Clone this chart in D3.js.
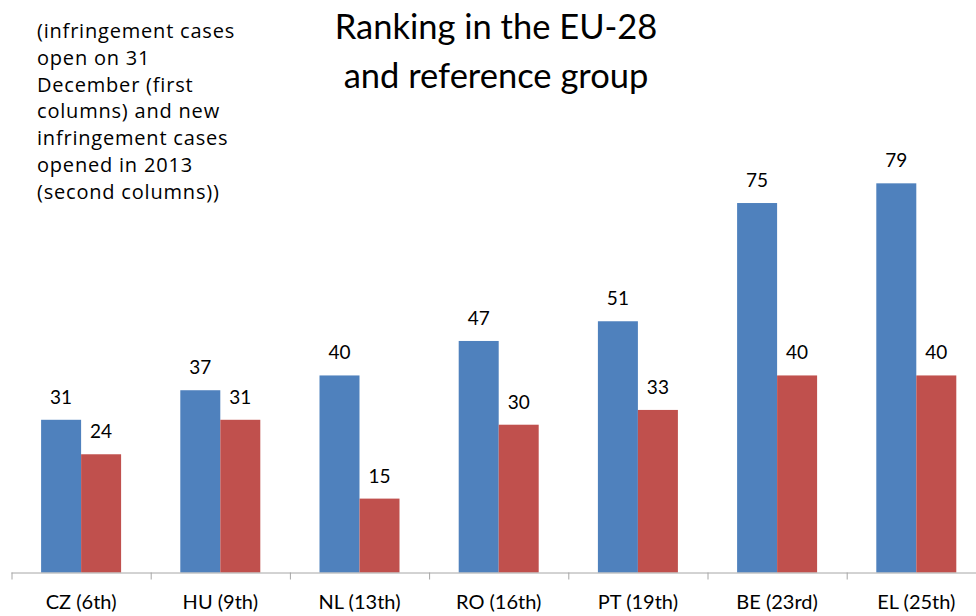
<!DOCTYPE html>
<html><head><meta charset="utf-8">
<script src="https://cdn.jsdelivr.net/npm/d3@7"></script>
<style>html,body{margin:0;padding:0;background:#fff}svg{display:block}</style>
</head><body>
<svg id="c" width="976" height="616"></svg>
<script>
const categories = ["CZ (6th)","HU (9th)","NL (13th)","RO (16th)","PT (19th)","BE (23rd)","EL (25th)"];
const seriesNames = ["open on 31 December","new in 2013"];
const openCases = [31,37,40,47,51,75,79];
const newCases = [24,31,15,30,33,40,40];
const colors = ["#4F81BD","#C0504D"];
const titleLines = ["Ranking in the EU-28","and reference group"];
const noteLines = ["(infringement cases","open on 31","December (first","columns) and new","infringement cases","opened in 2013","(second columns))"];

const svg = d3.select("#c");
const font = "Lato, 'Open Sans', sans-serif";
const font2 = "'Open Sans', Lato, sans-serif";
const x = d3.scaleBand().domain(categories).range([11.5, 11.5 + 139.2*7]).paddingInner(0).paddingOuter(0);
const xs = d3.scaleBand().domain(seriesNames).range([29.6, 109.6]);
const y = d3.scaleLinear().domain([0, 80]).range([572.5, 178.4]);

const data = categories.map((c,i)=>({c, vals:[openCases[i], newCases[i]]}));
const g = svg.append("g");
const grp = g.selectAll("g.cat").data(data).join("g").attr("transform", d=>`translate(${x(d.c)},0)`);
grp.selectAll("rect").data(d=>d.vals.map((v,j)=>({v,s:seriesNames[j],j}))).join("rect")
  .attr("x", d=>xs(d.s)).attr("width", xs.bandwidth())
  .attr("y", d=>y(d.v)).attr("height", d=>y(0)-y(d.v))
  .attr("fill", d=>colors[d.j]);
grp.selectAll("text").data(d=>d.vals.map((v,j)=>({v,s:seriesNames[j],j}))).join("text")
  .attr("x", d=>xs(d.s)+xs.bandwidth()/2).attr("y", d=>y(d.v)-16)
  .attr("text-anchor","middle").attr("font-family",font).attr("font-size",19).attr("fill","#000")
  .text(d=>d.v);

// axis
const ax = svg.append("g").attr("transform",`translate(0,${y(0)})`)
  .call(d3.axisBottom(x).tickSize(0).tickSizeOuter(0));
ax.select(".domain").attr("stroke","#A6A6A6").attr("d",`M${x.range()[0]},0.5H976`);
ax.selectAll(".tick text").attr("font-family",font).attr("font-size",20).attr("fill","#000").attr("dy",0).attr("y",36.5);
const bounds = categories.map(c=>x(c));
ax.selectAll("line.b").data(bounds).join("line").attr("class","b")
  .attr("x1",d=>d+0.5).attr("x2",d=>d+0.5).attr("y1",0).attr("y2",7).attr("stroke","#A6A6A6");

// title
svg.append("text").attr("x",496).attr("y",39).attr("text-anchor","middle")
  .attr("font-family",font).attr("font-size",34.5).attr("fill","#000")
  .selectAll("tspan").data(titleLines).join("tspan").attr("x",496).attr("dy",(d,i)=>i?49:0).text(d=>d);

// note
svg.append("text").attr("x",37).attr("y",38)
  .attr("font-family",font2).attr("font-size",20).attr("letter-spacing",0.8).attr("fill","#000")
  .selectAll("tspan").data(noteLines).join("tspan").attr("x",37).attr("dy",(d,i)=>i?26.8:0).text(d=>d);
</script>
</body></html>
